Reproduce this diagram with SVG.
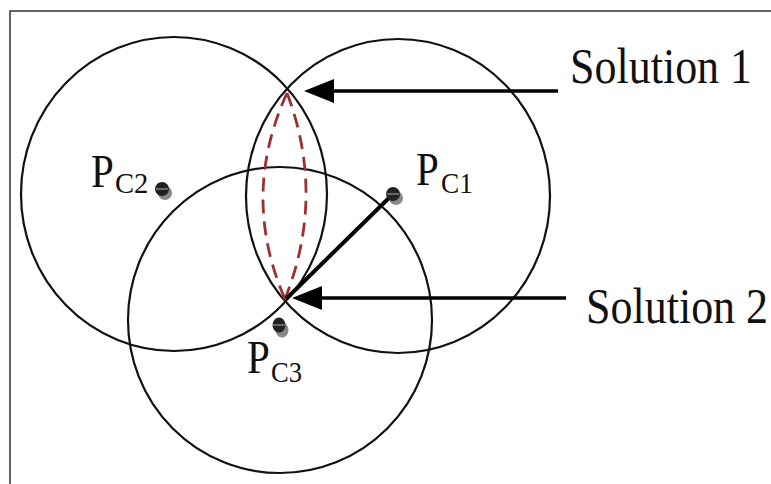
<svg xmlns="http://www.w3.org/2000/svg" width="771" height="484" viewBox="0 0 771 484">
<style>
.circ{fill:none;stroke:#111;stroke-width:2.2}
.lbl{font-family:"Liberation Serif","Times New Roman",serif;fill:#111}
.big{font-size:41px}
.sub{font-size:26px}
.sol{font-size:44px}
.dash{fill:none;stroke:#9e3030;stroke-width:2.8;stroke-dasharray:14 8}
.arr{stroke:#000;stroke-width:3.5;fill:none}
.shadow{fill:#888}
.dot{fill:#222}
.mid{stroke:#999;stroke-width:1.2}
</style>
<rect width="771" height="484" fill="#fff"/>
<path d="M10,484 V11 H771" fill="none" stroke="#333" stroke-width="1.5"/>
<g id="circles">
<ellipse id="circle-c2" class="circ" cx="174" cy="194" rx="153" ry="157"/>
<ellipse id="circle-c1" class="circ" cx="398" cy="196" rx="152" ry="157"/>
<ellipse id="circle-c3" class="circ" cx="280" cy="320" rx="152" ry="153"/>
</g>
<g id="connectors">
<path class="dash" d="M287,93 Q240,196 285,299"/>
<path class="dash" d="M287,93 Q326,196 285,299"/>
<line x1="393" y1="194" x2="286" y2="299" stroke="#000" stroke-width="4"/>
<line class="arr" x1="558" y1="91" x2="334" y2="91"/>
<path d="M304,91 L334,79 L334,103 Z" fill="#000"/>
<line class="arr" x1="566" y1="298" x2="322" y2="298"/>
<path d="M292,298 L322,286 L322,310 Z" fill="#000"/>
</g>
<g id="node-pc2">
<circle class="shadow" cx="165" cy="193" r="7"/>
<circle class="dot" cx="162" cy="189" r="7"/>
<line class="mid" x1="156" y1="189" x2="168" y2="189"/>
<text class="lbl big" transform="translate(91,187) scale(1,1.15)">P</text>
<text class="lbl sub" transform="translate(115,193) scale(1.1,1.15)">C2</text>
</g>
<g id="node-pc1">
<circle class="shadow" cx="396" cy="198" r="7"/>
<circle class="dot" cx="393" cy="194" r="7"/>
<line class="mid" x1="387" y1="194" x2="399" y2="194"/>
<text class="lbl big" transform="translate(416,185) scale(1,1.15)">P</text>
<text class="lbl sub" transform="translate(441,193) scale(1.05,1.15)">C1</text>
</g>
<g id="node-pc3">
<ellipse class="shadow" cx="282" cy="330" rx="6.5" ry="7.5"/>
<ellipse class="dot" cx="279" cy="325" rx="6.5" ry="7.5"/>
<line class="mid" x1="273" y1="325" x2="285" y2="325"/>
<text class="lbl big" transform="translate(247,373) scale(1,1.15)">P</text>
<text class="lbl sub" transform="translate(271,382) scale(1.02,1.15)">C3</text>
</g>
<g id="label-solution1">
<text class="lbl sol" transform="translate(570,83) scale(1,1.15)">Solution 1</text>
</g>
<g id="label-solution2">
<text class="lbl sol" transform="translate(586,323) scale(1,1.15)">Solution 2</text>
</g>
</svg>
